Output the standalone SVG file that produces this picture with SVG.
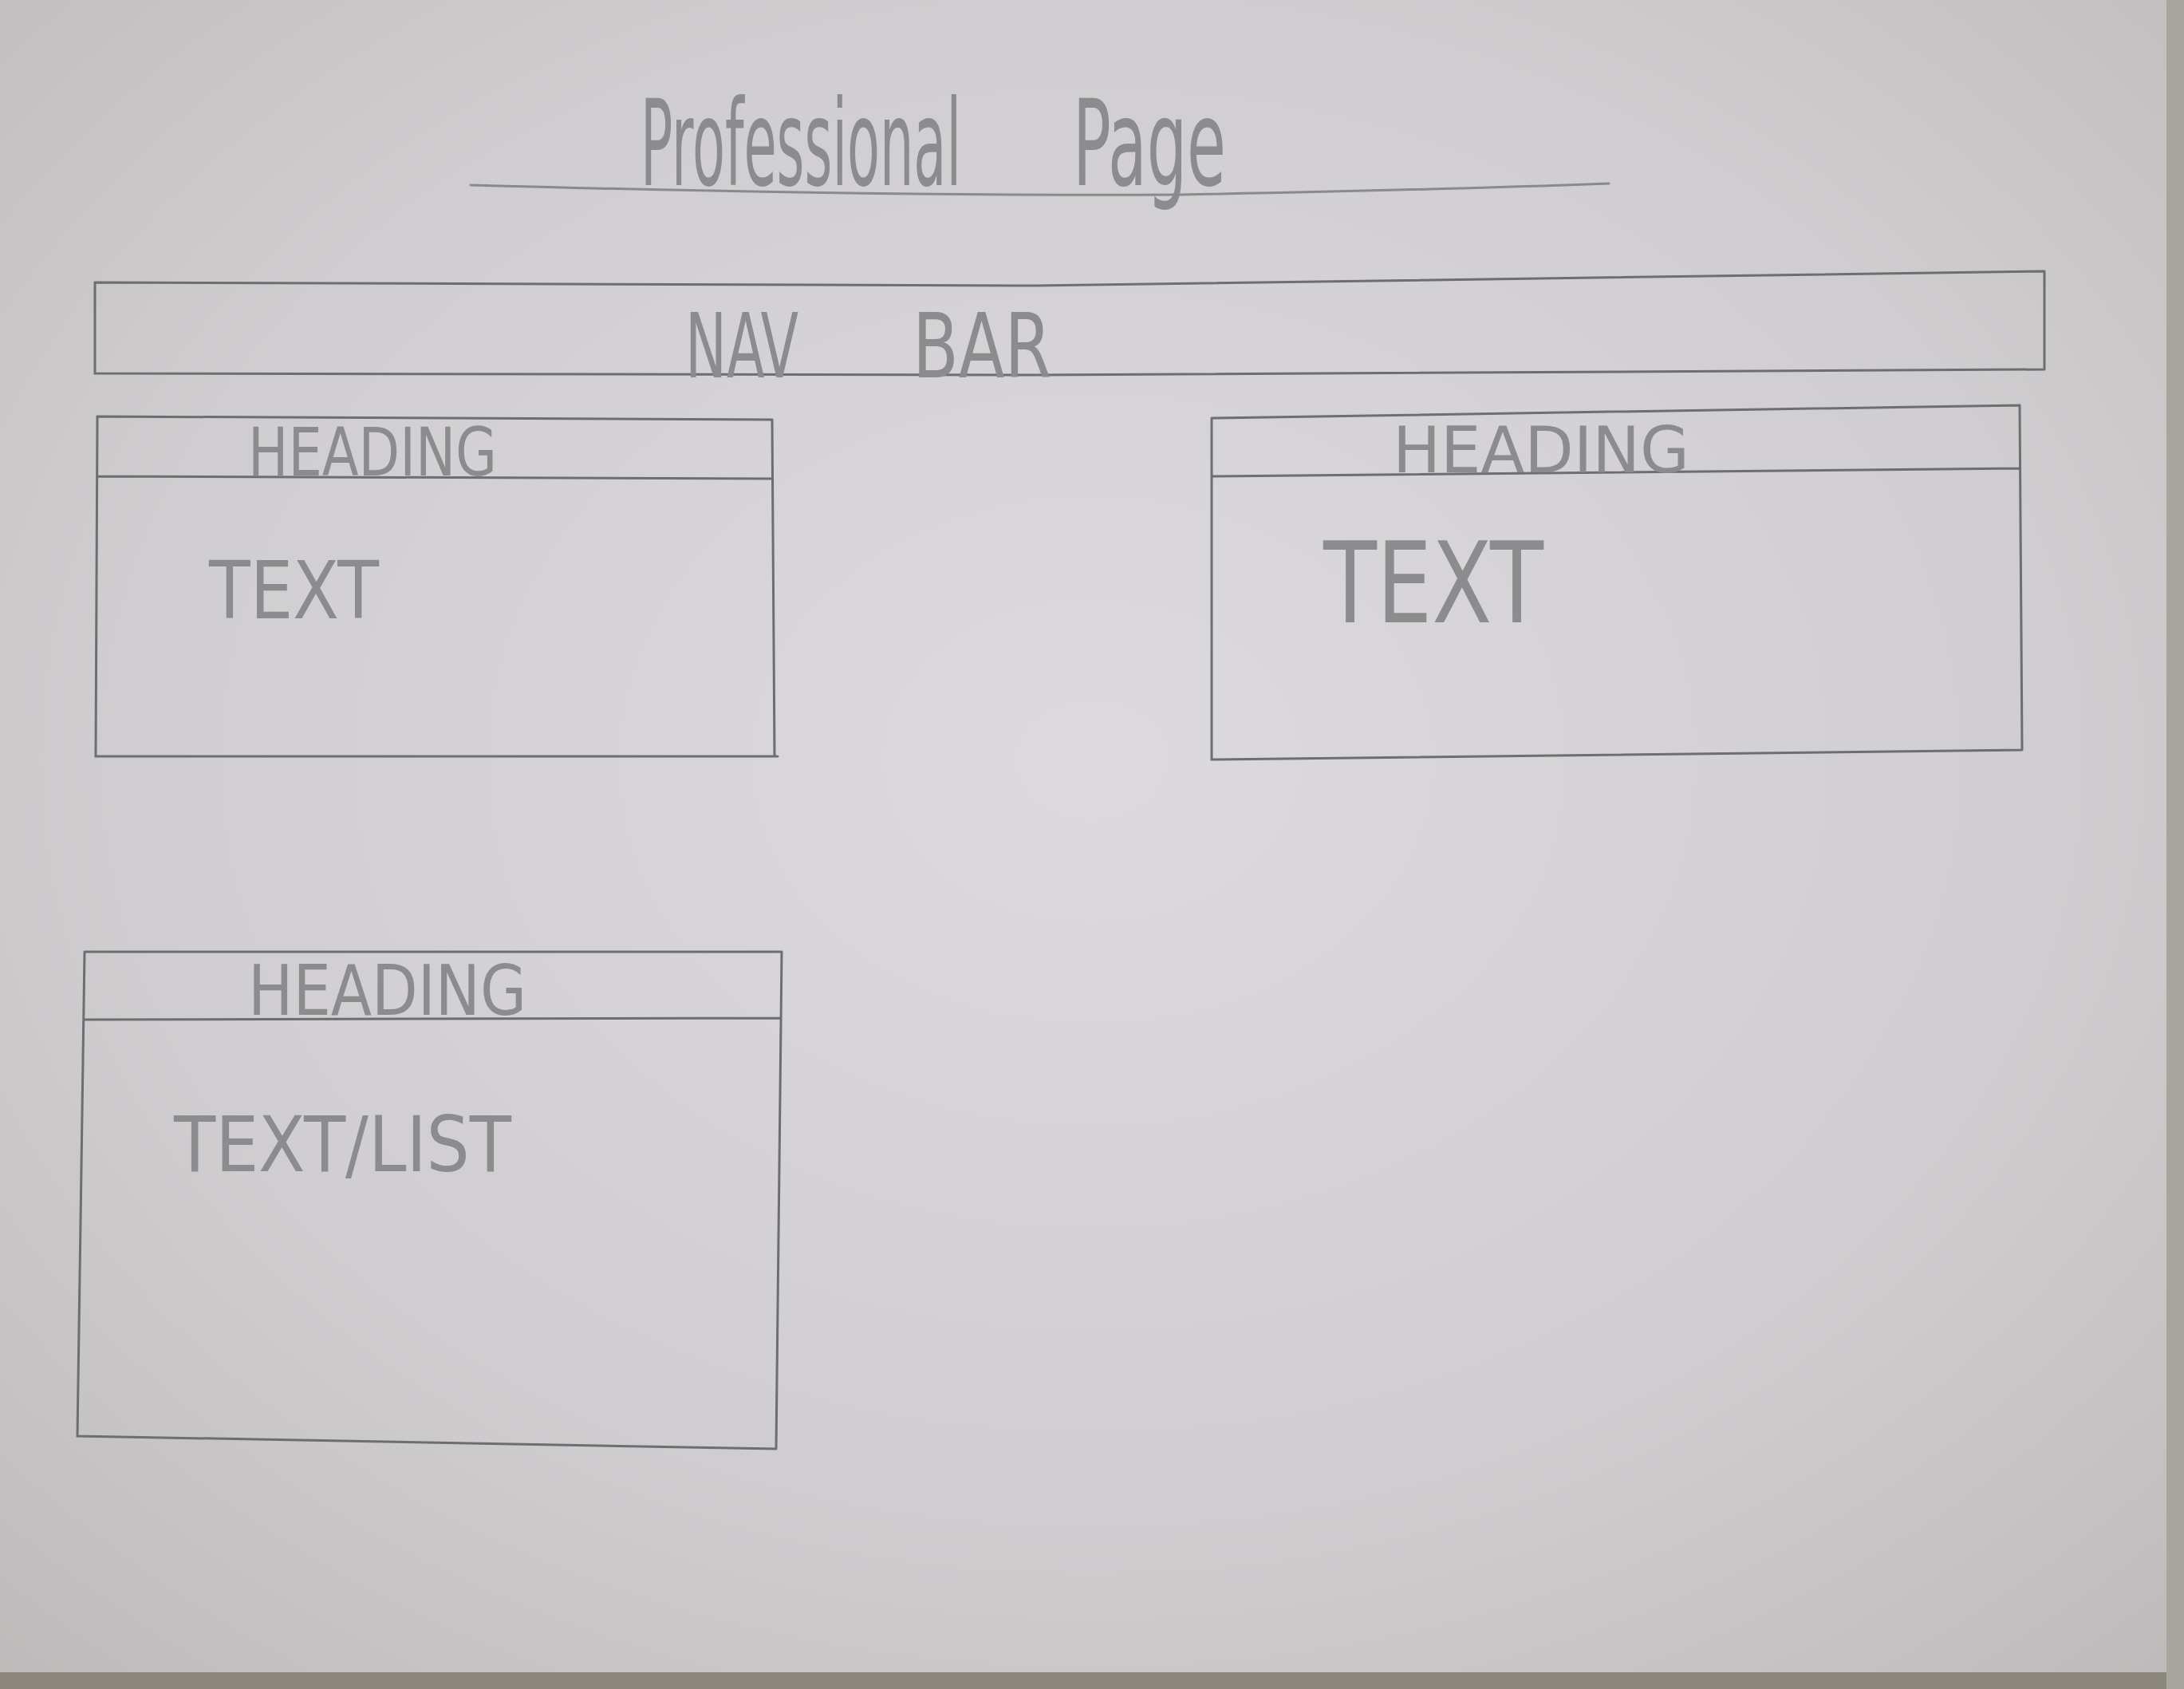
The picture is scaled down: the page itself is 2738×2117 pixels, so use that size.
<svg xmlns="http://www.w3.org/2000/svg" width="2738" height="2117" viewBox="0 0 2738 2117">
<defs>
<radialGradient id="paper" cx="0.5" cy="0.45" r="0.75">
<stop offset="0" stop-color="#dcdadc"/>
<stop offset="0.6" stop-color="#cfcdcf"/>
<stop offset="1" stop-color="#bcbab9"/>
</radialGradient>
<style>
.pen{fill:none;stroke:#6e6e70;stroke-width:3;stroke-linecap:round}
.pen2{fill:none;stroke:#8a8a8c;stroke-width:3;stroke-linecap:round}
.lbl{font-family:"DejaVu Sans Condensed","DejaVu Sans",sans-serif;font-weight:200;fill:#8c8c8e}
</style>
</defs>
<rect width="2738" height="2117" fill="url(#paper)"/>
<rect x="0" y="2096" width="2738" height="21" fill="#8b867e"/>
<rect x="2716" y="0" width="22" height="2117" fill="#a8a49e"/>

<g id="title">
<text class="lbl" transform="translate(803,232) scale(1,2.2)" font-size="68" textLength="402" lengthAdjust="spacingAndGlyphs">Professional</text>
<text class="lbl" transform="translate(1345,232) scale(1,2.2)" font-size="68" textLength="192" lengthAdjust="spacingAndGlyphs">Page</text>
<path class="pen2" d="M590 232 Q1100 246 1480 244 Q1800 238 2017 230"/>
</g>

<g id="navbar">
<path class="pen" d="M119 354 L1300 358 L2563 340 M119 354 L119 468 L1300 470 L2563 463 M2563 340 L2563 463" stroke-width="4"/>
<text class="lbl" x="859" y="473" font-size="112" textLength="142" lengthAdjust="spacingAndGlyphs">NAV</text>
<text class="lbl" x="1144" y="473" font-size="112" textLength="174" lengthAdjust="spacingAndGlyphs">BAR</text>
</g>

<g id="box1">
<path class="pen" d="M122 522 L968 526 M122 522 L120 948 L975 948 M968 526 L971 948 M122 597 L968 600"/>
<text class="lbl" x="311" y="596" font-size="84" textLength="312" lengthAdjust="spacingAndGlyphs">HEADING</text>
<text class="lbl" x="262" y="775" font-size="100" textLength="213" lengthAdjust="spacingAndGlyphs">TEXT</text>
</g>

<g id="box2">
<path class="pen" d="M1519 524 L2532 508 M1519 524 L1519 952 L2535 940 M2532 508 L2535 940 M1519 597 L2532 587"/>
<text class="lbl" x="1746" y="592" font-size="80" textLength="372" lengthAdjust="spacingAndGlyphs">HEADING</text>
<text class="lbl" x="1659" y="780" font-size="140" textLength="276" lengthAdjust="spacingAndGlyphs">TEXT</text>
</g>

<g id="box3">
<path class="pen" d="M106 1193 L980 1193 M106 1193 L97 1800 L973 1816 M980 1193 L973 1816 M106 1278 L978 1276"/>
<text class="lbl" x="311" y="1272" font-size="88" textLength="349" lengthAdjust="spacingAndGlyphs">HEADING</text>
<text class="lbl" x="218" y="1468" font-size="96" textLength="423" lengthAdjust="spacingAndGlyphs">TEXT/LIST</text>
</g>
<g id="connectors"/>
</svg>
